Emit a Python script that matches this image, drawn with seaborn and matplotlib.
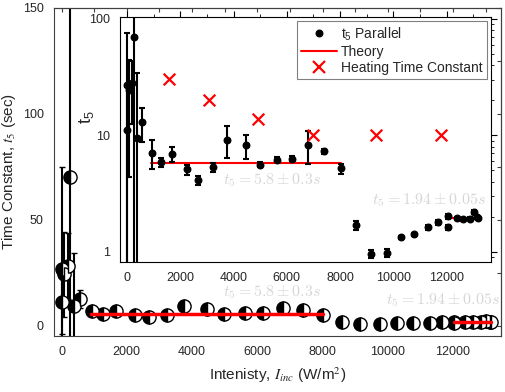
import pandas as pd
import seaborn as sns
import matplotlib.pyplot as plt
from matplotlib.lines import Line2D

# t5 vs incident intensity
intensity = [0, 0, 90, 190, 250, 375, 560, 930, 1260, 1680, 2240, 2680, 3240,
             3760, 4450, 4990, 5620, 6180, 6800, 7390, 8020, 8590, 9160, 9760,
             10290, 10770, 11280, 11660, 12040, 12040, 12370, 12620, 12870,
             13020, 13120, 13180]
t5 = [11.1, 27.0, 24.4, 28.2, 70.4, 9.5, 12.9, 7.1, 5.85, 6.9, 5.1, 4.1, 5.3,
      9.2, 8.2, 5.6, 6.2, 6.3, 8.3, 7.3, 5.2, 1.70, 0.96, 0.98,
      1.33, 1.41, 1.62, 1.79, 2.02, 1.62, 1.94, 1.90, 1.93,
      2.20, 2.00, 1.94]
t5_err = [15, 48, 20, 15.6, 130, 25, 4.2, 2.0, 0.5, 1.0, 0.5, 0.35, 0.5,
          2.8, 1.9, 0.3, 0.3, 0.3, 2.6, 0.4, 0.5, 0.15, 0.07, 0.07,
          0.05, 0.05, 0.07, 0.1, 0.1, 0.08, 0.05, 0.05, 0.05, 0.1, 0.05, 0.05]

# heating time constant
heat_x = [1590, 3090, 4900, 6990, 9330, 11770]
heat_y = [30.4, 20.3, 13.7, 10.0, 10.0, 10.0]

# theory plateaus
theory1_x = [900, 8020]
theory1_y = [5.8, 5.8]
theory2_x = [12040, 13180]
theory2_y = [1.94, 1.94]

df = pd.DataFrame({'I': intensity, 't5': t5, 'err': t5_err})
heat = pd.DataFrame({'I': heat_x, 'tau': heat_y})

sns.set_style("white")
plt.rcParams['font.family'] = ['Liberation Sans', 'DejaVu Sans']
plt.rcParams['mathtext.fontset'] = 'stix'

fig = plt.figure(figsize=(5.05, 3.92), dpi=100)

# ---- main axes (linear) ----
ax = fig.add_axes([0.107, 0.143, 0.885, 0.837])
ax.errorbar(df['I'], df['t5'], yerr=df['err'], fmt='o', ms=9.5, color='black',
            fillstyle='left', markerfacecoloralt='white', mec='black', mew=1,
            ecolor='black', elinewidth=1.5, capsize=2.5, capthick=1.5, zorder=2)
sns.lineplot(x=theory1_x, y=theory1_y, color='red', lw=2.5, ax=ax, zorder=3)
sns.lineplot(x=theory2_x, y=theory2_y, color='red', lw=2.5, ax=ax, zorder=3)
ax.set_xlim(-230, 13470)
ax.set_ylim(-4.7, 150)
ax.set_xticks(range(0, 13000, 2000))
ax.set_xticks(range(1000, 13500, 2000), minor=True)
ax.set_yticks([0, 50, 100, 150])
ax.set_yticks([25, 75, 125], minor=True)
ax.tick_params(which='both', direction='out', labelsize=9, color='#404040')
ax.tick_params(which='major', length=4)
ax.tick_params(which='minor', length=2.5)
for s in ax.spines.values():
    s.set_color('#404040')
ax.set_xlabel('Intenisty, $I_{inc}$ (W/m$^2$)', fontsize=11, labelpad=5)
ax.set_ylabel('Time Constant, $t_5$ (sec)', fontsize=11, labelpad=3)
top = ax.secondary_xaxis('top')
top.set_xticks(range(0, 13500, 1000))
top.tick_params(direction='in', labeltop=False, length=3, color='#404040')
right = ax.secondary_yaxis('right')
right.set_yticks(range(0, 151, 25))
right.tick_params(direction='in', labelright=False, length=3, color='#404040')
ax.text(4950, 16, r'$t_5 = 5.8 \pm 0.3s$', color='#d6d6d6', fontsize=11.5,
        math_fontfamily='cm', va='center')
ax.text(9950, 12.3, r'$t_5 = 1.94 \pm 0.05s$', color='#d6d6d6', fontsize=11.5,
        math_fontfamily='cm', va='center')

# ---- inset (log) ----
ins = fig.add_axes([0.2376, 0.332, 0.7347, 0.625])
ins.set_facecolor('white')
ins.set_yscale('log')
ins.errorbar(df['I'], df['t5'], yerr=df['err'], fmt='o', ms=4.7, color='black',
             ecolor='black', elinewidth=1.5, capsize=2.5, capthick=1.5, zorder=3)
sns.lineplot(x=theory1_x, y=theory1_y, color='red', lw=1.5, ax=ins, zorder=2)
sns.lineplot(x=theory2_x, y=theory2_y, color='red', lw=1.5, ax=ins, zorder=2)
sns.scatterplot(data=heat, x='I', y='tau', marker='x', color='red', s=70,
                linewidth=1.6, ax=ins, zorder=4)
ins.set_xlim(-260, 13660)
ins.set_ylim(0.82, 104)
ins.set_xticks(range(0, 13000, 2000))
ins.set_xticks(range(1000, 13500, 2000), minor=True)
ins.set_yticks([1, 10, 100])
ins.set_yticklabels(['1', '10', '100'])
ins.tick_params(which='both', direction='out', top=True, right=True,
                labelsize=9, color='black')
ins.tick_params(which='major', length=4)
ins.tick_params(which='minor', length=2)
for s in ins.spines.values():
    s.set_color('black')
ins.set_xlabel('')
ins.set_ylabel(r'$\mathregular{t_5}$', fontsize=13)
ins.yaxis.set_label_coords(-0.065, 0.59)
ins.text(3600, 4.09, r'$t_5 = 5.8 \pm 0.3s$', color='#d6d6d6', fontsize=11.5,
         math_fontfamily='cm', va='center')
ins.text(9200, 2.76, r'$t_5 = 1.94 \pm 0.05s$', color='#d6d6d6', fontsize=11.5,
         math_fontfamily='cm', va='center')

handles = [Line2D([], [], marker='o', ls='', color='black', ms=4.7),
           Line2D([], [], color='red', lw=1.5),
           Line2D([], [], marker='x', ls='', color='red', ms=8, mew=1.6)]
labels = [r'$\mathregular{t_5}$ Parallel', 'Theory', 'Heating Time Constant']
leg = ins.legend(handles, labels, loc='upper right', fontsize=10, frameon=True,
                 fancybox=False, edgecolor='#808080', framealpha=1,
                 borderpad=0.3, labelspacing=0.15, handlelength=2.6,
                 handletextpad=0.3, borderaxespad=0.3)
leg.get_frame().set_linewidth(0.8)

fig.savefig('out.png', dpi=100)
